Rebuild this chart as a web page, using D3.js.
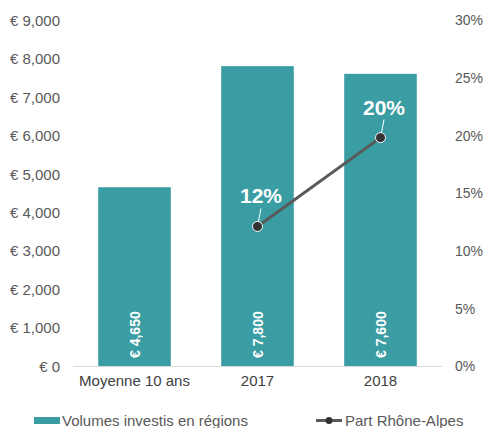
<!DOCTYPE html>
<html>
<head>
<meta charset="utf-8">
<script src="https://cdn.jsdelivr.net/npm/d3@7"></script>
<style>
  body { margin: 0; background: #fff; }
  text { font-family: "Liberation Sans", Arial, sans-serif; }
</style>
</head>
<body>
<script>
const categories = ['Moyenne 10 ans', '2017', '2018'];
const volumes = [4650, 7800, 7600];
const shareCats = ['2017', '2018'];
const shares = [0.121, 0.198];
const leftTicks = [0, 1000, 2000, 3000, 4000, 5000, 6000, 7000, 8000, 9000];
const rightTicks = [0, 0.05, 0.10, 0.15, 0.20, 0.25, 0.30];

const w = 485, h = 428;
const mLeft = 73, mRight = 442, mTop = 20, mBottom = 366;
const teal = '#3a9da3';
const grey = '#595959';

const svg = d3.select('body').append('svg')
              .attr('width', w)
              .attr('height', h)

const x = d3.scaleBand().domain(categories).range([mLeft, mRight]).paddingInner(0.41).paddingOuter(0.205)
const yL = d3.scaleLinear().domain([0, 9000]).range([mBottom, mTop])
const yR = d3.scaleLinear().domain([0, 0.30]).range([mBottom, mTop])

const euro = d => '€ ' + d3.format(',')(d)

// left axis
svg.append('g')
   .attr('transform', `translate(${mLeft - 13},0)`)
   .call(d3.axisLeft(yL).tickValues(leftTicks).tickFormat(euro).tickSize(0))
   .call(g => g.select('.domain').remove())
   .call(g => g.selectAll('text').attr('fill', grey).style('font-size', '15px').attr('dy', '0.35em').attr('x', 0))

// right axis
svg.append('g')
   .attr('transform', `translate(${mRight + 13},0)`)
   .call(d3.axisRight(yR).tickValues(rightTicks).tickFormat(d3.format('.0%')).tickSize(0))
   .call(g => g.select('.domain').remove())
   .call(g => g.selectAll('text').attr('fill', grey).style('font-size', '14px').attr('dy', '0.35em').attr('x', 0))

// bars
svg.append('g').selectAll('rect')
   .data(volumes)
   .enter().append('rect')
   .attr('x', (d, i) => x(categories[i]))
   .attr('y', d => yL(d))
   .attr('width', x.bandwidth())
   .attr('height', d => yL(0) - yL(d))
   .attr('fill', teal)

// baseline
svg.append('line')
   .attr('x1', mLeft).attr('x2', mRight)
   .attr('y1', mBottom + 0.5).attr('y2', mBottom + 0.5)
   .attr('stroke', '#d9d9d9')

// bottom axis labels
svg.append('g')
   .attr('transform', `translate(0,${mBottom})`)
   .call(d3.axisBottom(x).tickSize(0))
   .call(g => g.select('.domain').remove())
   .call(g => g.selectAll('text').attr('fill', '#404040').style('font-size', '15px').attr('y', 9))

// bar value labels
svg.append('g').selectAll('text')
   .data(volumes)
   .enter().append('text')
   .attr('transform', (d, i) => `translate(${x(categories[i]) + x.bandwidth() / 2 + 5},${mBottom - 8}) rotate(-90)`)
   .attr('fill', '#fff')
   .style('font-size', '14px')
   .style('font-weight', 'bold')
   .text(euro)

// line
const px = c => x(c) + x.bandwidth() / 2
const line = d3.line().x((d, i) => px(shareCats[i])).y(d => yR(d))
svg.append('path')
   .datum(shares)
   .attr('d', line)
   .attr('fill', 'none')
   .attr('stroke', grey)
   .attr('stroke-width', 3)

// leader lines
svg.append('g').selectAll('line')
   .data(shares)
   .enter().append('line')
   .attr('x1', (d, i) => px(shareCats[i]))
   .attr('y1', d => yR(d))
   .attr('x2', (d, i) => px(shareCats[i]) + 3.5)
   .attr('y2', d => yR(d) - 18)
   .attr('stroke', '#fff')
   .attr('stroke-width', 1)

svg.append('g').selectAll('circle')
   .data(shares)
   .enter().append('circle')
   .attr('cx', (d, i) => px(shareCats[i]))
   .attr('cy', d => yR(d))
   .attr('r', 5)
   .attr('fill', '#333')
   .attr('stroke', '#fff')
   .attr('stroke-width', 1)

svg.append('g').selectAll('text')
   .data(shares)
   .enter().append('text')
   .attr('x', (d, i) => px(shareCats[i]) + 3.5)
   .attr('y', d => yR(d) - 23)
   .attr('text-anchor', 'middle')
   .attr('fill', '#fff')
   .style('font-size', '21px')
   .style('font-weight', 'bold')
   .text(d3.format('.0%'))

// legend
const legend = svg.append('g')
legend.append('rect')
      .attr('x', 34).attr('y', 417).attr('width', 26).attr('height', 7)
      .attr('fill', teal)
legend.append('text')
      .attr('x', 62).attr('y', 426)
      .attr('fill', grey).style('font-size', '15px')
      .text('Volumes investis en régions')
legend.append('line')
      .attr('x1', 316).attr('x2', 342).attr('y1', 420.5).attr('y2', 420.5)
      .attr('stroke', grey).attr('stroke-width', 3)
legend.append('circle')
      .attr('cx', 329).attr('cy', 420.5).attr('r', 3.5)
      .attr('fill', '#333')
legend.append('text')
      .attr('x', 345).attr('y', 426)
      .attr('fill', grey).style('font-size', '15px')
      .text('Part Rhône-Alpes')
</script>
</body>
</html>
